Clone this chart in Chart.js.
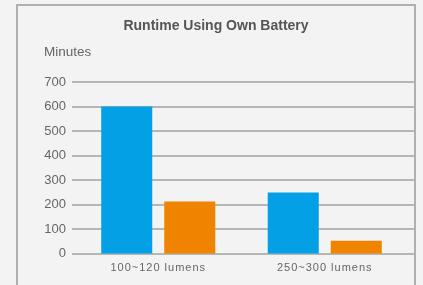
<!DOCTYPE html>
<html>
<head>
<meta charset="utf-8">
<script src="https://cdn.jsdelivr.net/npm/chart.js@4/dist/chart.umd.min.js"></script>
<style>
  html, body { margin: 0; padding: 0; background: #f3f3f3; width: 423px; height: 285px; overflow: hidden; }
  #wrap { position: absolute; left: 24px; top: 0; width: 391px; height: 285px; }
  #frame { position: absolute; left: 16px; top: 4px; width: 400px; height: 300px; box-sizing: border-box;
           border: 2px solid #b0b0b0; pointer-events: none; }
</style>
</head>
<body>
<div id="wrap"><canvas id="c" width="391" height="285"></canvas></div>
<div id="frame"></div>
<script>
const categories = ["100~120 lumens", "250~300 lumens"];
const seriesBlue = [600, 250];
const seriesOrange = [213, 53];
const yTicks = [0, 100, 200, 300, 400, 500, 600, 700];
const titleText = "Runtime Using Own Battery";
const yAxisLabel = "Minutes";

const FONT = "'Liberation Sans', Arial, sans-serif";

const gridPlugin = {
  id: 'fullGrid',
  beforeDatasetsDraw(chart) {
    const ctx = chart.ctx;
    const y = chart.scales.y;
    ctx.save();
    ctx.strokeStyle = '#b6b6b6';
    ctx.lineWidth = 2;
    yTicks.forEach(v => {
      const py = Math.round(y.getPixelForValue(v));
      ctx.beginPath();
      ctx.moveTo(48, py);
      ctx.lineTo(391, py);
      ctx.stroke();
    });
    ctx.restore();
  },
  afterDraw(chart) {
    const ctx = chart.ctx;
    ctx.save();
    ctx.font = '13.5px ' + FONT;
    ctx.fillStyle = '#666666';
    ctx.textAlign = 'left';
    ctx.textBaseline = 'middle';
    ctx.fillText(yAxisLabel, 20, 52.5);
    ctx.restore();
  }
};

new Chart(document.getElementById('c'), {
  type: 'bar',
  data: {
    labels: categories,
    datasets: [
      { data: seriesBlue, backgroundColor: '#04a0e6', borderWidth: 0,
        categoryPercentage: 0.757, barPercentage: 0.81 },
      { data: seriesOrange, backgroundColor: '#f08400', borderWidth: 0,
        categoryPercentage: 0.757, barPercentage: 0.81 }
    ]
  },
  options: {
    responsive: false,
    animation: false,
    devicePixelRatio: 1,
    layout: { padding: { left: 0, right: 7, top: 0, bottom: 2 } },
    plugins: {
      legend: { display: false },
      tooltip: { enabled: false },
      title: {
        display: true,
        text: titleText,
        color: '#555555',
        font: { family: FONT, size: 14, weight: 'bold', lineHeight: 1.2 },
        padding: { top: 17.6, bottom: 47.6 }
      }
    },
    scales: {
      x: {
        grid: { display: false, drawTicks: false },
        border: { display: false },
        ticks: {
          color: '#666666',
          font: { family: FONT, size: 11 },
          padding: 8,
          maxRotation: 0,
          autoSkip: false
        },
        afterUpdate(scale) {
          if (!scale._lsPatched) {
            const orig = scale.drawLabels.bind(scale);
            scale.drawLabels = function (a) {
              const c = this.ctx;
              const prev = c.letterSpacing;
              c.letterSpacing = '1px';
              orig(a);
              c.letterSpacing = prev || '0px';
            };
            scale._lsPatched = true;
          }
        }
      },
      y: {
        min: 0,
        max: 700,
        grid: { display: false, drawTicks: false },
        border: { display: false },
        afterFit(scale) { scale.width = 51; },
        afterBuildTicks(scale) { scale.ticks = yTicks.map(v => ({ value: v })); },
        ticks: {
          color: '#666666',
          font: { family: FONT, size: 13 },
          padding: 9
        }
      }
    }
  },
  plugins: [gridPlugin]
});
</script>
</body>
</html>
